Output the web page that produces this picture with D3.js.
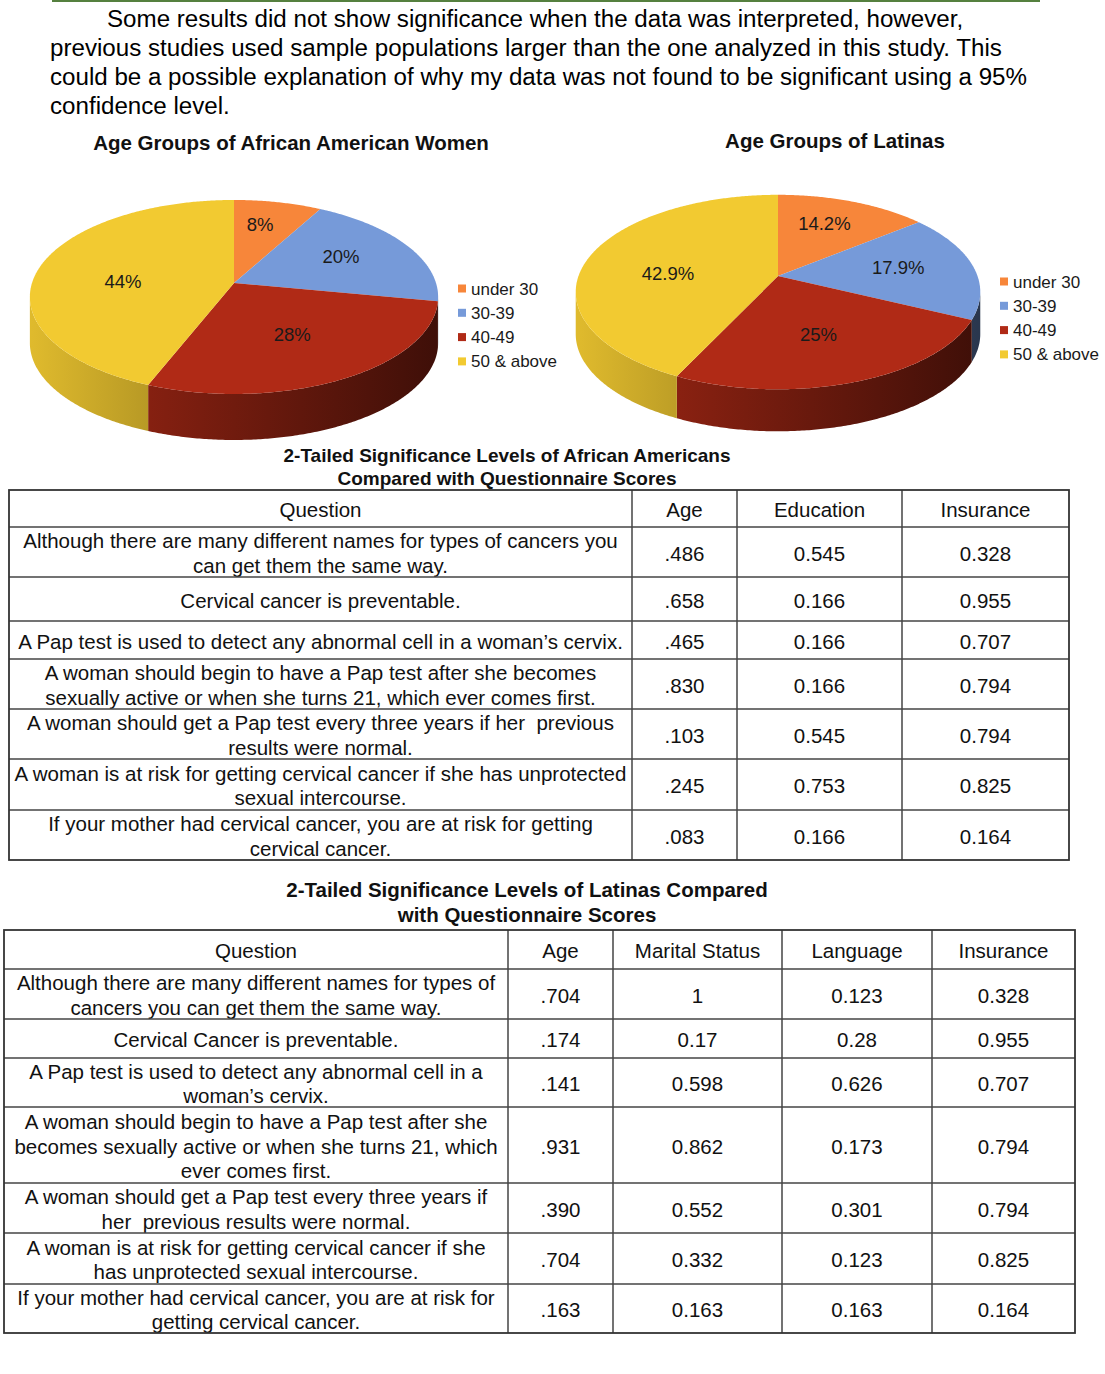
<!DOCTYPE html>
<html>
<head>
<meta charset="utf-8">
<script src="https://cdn.jsdelivr.net/npm/d3@7"></script>
<style>
  html, body { margin: 0; padding: 0; background: #fff; }
  svg { display: block; font-family: "Liberation Sans", Arial, sans-serif; }
</style>
</head>
<body>
<svg id="chart" width="1105" height="1374"></svg>
<script>
// ---------------- DATA ----------------
const introLines = [
  "Some results did not show significance when the data was interpreted, however,",
  "previous studies used sample populations larger than the one analyzed in this study. This",
  "could be a possible explanation of why my data was not found to be significant using a 95%",
  "confidence level."
];
const ageGroups = ["under 30", "30-39", "40-49", "50 & above"];
const africanAmericanPct = [8, 20, 28, 44];
const latinaPct = [14.2, 17.9, 25, 42.9];
const pieTitles = ["Age Groups of African American Women", "Age Groups of Latinas"];

const aaTitle = ["2-Tailed Significance Levels of African Americans", "Compared with Questionnaire Scores"];
const aaColumns = ["Question", "Age", "Education", "Insurance"];
const aaQuestions = [
  ["Although there are many different names for types of cancers you", "can get them the same way."],
  ["Cervical cancer is preventable."],
  ["A Pap test is used to detect any abnormal cell in a woman\u2019s cervix."],
  ["A woman should begin to have a Pap test after she becomes", "sexually active or when she turns 21, which ever comes first."],
  ["A woman should get a Pap test every three years if her \u00a0previous", "results were normal."],
  ["A woman is at risk for getting cervical cancer if she has unprotected", "sexual intercourse."],
  ["If your mother had cervical cancer, you are at risk for getting", "cervical cancer."]
];
const aaAge = [0.486, 0.658, 0.465, 0.830, 0.103, 0.245, 0.083];
const aaEducation = [0.545, 0.166, 0.166, 0.166, 0.545, 0.753, 0.166];
const aaInsurance = [0.328, 0.955, 0.707, 0.794, 0.794, 0.825, 0.164];

const laTitle = ["2-Tailed Significance Levels of Latinas Compared", "with Questionnaire Scores"];
const laColumns = ["Question", "Age", "Marital Status", "Language", "Insurance"];
const laQuestions = [
  ["Although there are many different names for types of", "cancers you can get them the same way."],
  ["Cervical Cancer is preventable."],
  ["A Pap test is used to detect any abnormal cell in a", "woman\u2019s cervix."],
  ["A woman should begin to have a Pap test after she", "becomes sexually active or when she turns 21, which", "ever comes first."],
  ["A woman should get a Pap test every three years if", "her \u00a0previous results were normal."],
  ["A woman is at risk for getting cervical cancer if she", "has unprotected sexual intercourse."],
  ["If your mother had cervical cancer, you are at risk for", "getting cervical cancer."]
];
const laAge = [0.704, 0.174, 0.141, 0.931, 0.390, 0.704, 0.163];
const laMarital = [1, 0.17, 0.598, 0.862, 0.552, 0.332, 0.163];
const laLanguage = [0.123, 0.28, 0.626, 0.173, 0.301, 0.123, 0.163];
const laInsurance = [0.328, 0.955, 0.707, 0.794, 0.794, 0.825, 0.164];

// ---------------- STYLE / LAYOUT ----------------
const sliceColors = ["#f7863a", "#769ad9", "#b02a16", "#f2ca31"];

const pieLayouts = [
  { cx: 234, cy: 283, R: 202, S: 95, p: 0.144, depth: 46,
    titleX: 291, titleY: 150, legX: 458, legY: 289 },
  { cx: 778, cy: 276, R: 199.5, S: 94.6, p: 0.165, depth: 42,
    titleX: 835, titleY: 148, legX: 1000, legY: 282 }
];
const legendStep = 24.3;

const table1Layout = { cols: [9, 632, 737, 902, 1069],
  rows: [490, 527, 577, 621, 659, 709, 759, 810, 860],
  titleX: 507, titleY: [462, 485], titleSize: 19 };
const table2Layout = { cols: [4, 508, 613, 782, 932, 1075],
  rows: [930, 969, 1019, 1058, 1107, 1183, 1233, 1284, 1333],
  titleX: 527, titleY: [897, 922], titleSize: 20.5 };

// ---------------- DRAW ----------------
const svg = d3.select("#chart");
svg.append("rect").attr("width", 1105).attr("height", 1374).attr("fill", "#fff");
const defs = svg.append("defs");

// top rule
svg.append("line").attr("x1", 52).attr("x2", 1040).attr("y1", 1).attr("y2", 1)
  .attr("stroke", "#55803f").attr("stroke-width", 2);

// intro paragraph
svg.append("g").selectAll("text").data(introLines).join("text")
  .attr("x", (d, i) => i === 0 ? 107 : 50)
  .attr("y", (d, i) => 27 + i * 29)
  .attr("font-size", 24.15).attr("fill", "#000")
  .text(d => d);

function shade(c, f) {
  const r = d3.rgb(c);
  return d3.rgb(r.r * f, r.g * f, r.b * f).formatHex();
}

function drawPie(idx, values) {
  const L = pieLayouts[idx];
  const g = svg.append("g");
  const arcs = d3.pie().sort(null).value(d => d)(values);
  const proj = (a, r) => {
    const u = r * Math.sin(a), v = -r * Math.cos(a);
    const w = 1 - L.p * v;
    return [L.cx + L.R * u / w, L.cy + L.S * v / w];
  };
  const sample = (a0, a1) => {
    const n = Math.max(2, Math.ceil((a1 - a0) / 0.01));
    return d3.range(n + 1).map(k => proj(a0 + (a1 - a0) * k / n, 1));
  };
  const f0 = Math.acos(-L.p), f1 = 2 * Math.PI - f0;
  const line = d3.line();

  // side walls
  arcs.forEach((d, i) => {
    const s = Math.max(d.startAngle, f0), e = Math.min(d.endAngle, f1);
    if (e <= s) return;
    const gid = `side${idx}_${i}`;
    const grad = defs.append("linearGradient").attr("id", gid)
      .attr("gradientUnits", "userSpaceOnUse")
      .attr("x1", L.cx - L.R).attr("x2", L.cx + L.R).attr("y1", 0).attr("y2", 0);
    grad.append("stop").attr("offset", 0).attr("stop-color", shade(sliceColors[i], 0.92));
    grad.append("stop").attr("offset", 1).attr("stop-color", shade(sliceColors[i], 0.36));
    const top = sample(s, e);
    const bottom = top.slice().reverse().map(([x, y]) => [x, y + L.depth]);
    g.append("path").attr("d", line(top.concat(bottom)) + "Z")
      .attr("fill", `url(#${gid})`);
  });

  // top faces + labels
  const apex = proj(0, 0);
  arcs.forEach((d, i) => {
    const pts = [apex].concat(sample(d.startAngle, d.endAngle));
    g.append("path").attr("d", line(pts) + "Z").attr("fill", sliceColors[i]);
  });
  arcs.forEach((d, i) => {
    const pts = [apex].concat(sample(d.startAngle, d.endAngle));
    const c = d3.polygonCentroid(pts);
    // nudge the label a little toward the rim centre of the slice's mid-angle
    const m = proj((d.startAngle + d.endAngle) / 2, 0.62);
    const lx = c[0] * 0.55 + m[0] * 0.45 - 3;
    const ly = c[1] - 5;
    g.append("text").attr("x", lx).attr("y", ly)
      .attr("text-anchor", "middle").attr("dominant-baseline", "central")
      .attr("font-size", 18.5).attr("fill", "#1a1a1a")
      .text(d3.format("")(d.data) + "%");
  });

  // title
  svg.append("text").attr("x", L.titleX).attr("y", L.titleY)
    .attr("text-anchor", "middle").attr("font-size", 20.5).attr("font-weight", "bold")
    .attr("fill", "#111").text(pieTitles[idx]);

  // legend
  const lg = svg.append("g");
  ageGroups.forEach((name, i) => {
    const y = L.legY + i * legendStep;
    lg.append("rect").attr("x", L.legX).attr("y", y - 4.5).attr("width", 8).attr("height", 8)
      .attr("fill", sliceColors[i]);
    lg.append("text").attr("x", L.legX + 13).attr("y", y)
      .attr("dominant-baseline", "central").attr("font-size", 17).attr("fill", "#1a1a1a")
      .text(name);
  });
}

drawPie(0, africanAmericanPct);
drawPie(1, latinaPct);

const fmtAge = v => d3.format(".3f")(v).replace(/^0/, "");
const fmtVal = v => String(v);

function drawTable(L, title, columns, questions, series, formats) {
  const g = svg.append("g");
  title.forEach((t, i) => {
    g.append("text").attr("x", L.titleX).attr("y", L.titleY[i])
      .attr("text-anchor", "middle").attr("font-size", L.titleSize)
      .attr("font-weight", "bold").attr("fill", "#111").text(t);
  });
  const x0 = L.cols[0], x1 = L.cols[L.cols.length - 1];
  const y0 = L.rows[0], y1 = L.rows[L.rows.length - 1];
  const colMid = i => (L.cols[i] + L.cols[i + 1]) / 2;
  const rowMid = r => (L.rows[r] + L.rows[r + 1]) / 2;

  // header
  columns.forEach((c, i) => {
    g.append("text").attr("x", colMid(i)).attr("y", rowMid(0) + 1)
      .attr("text-anchor", "middle").attr("dominant-baseline", "central")
      .attr("font-size", 20.5).attr("fill", "#111").text(c);
  });
  // body
  questions.forEach((lines, r) => {
    const cy = rowMid(r + 1) + 1;
    lines.forEach((ln, k) => {
      g.append("text").attr("x", colMid(0))
        .attr("y", cy + (k - (lines.length - 1) / 2) * 24.7)
        .attr("text-anchor", "middle").attr("dominant-baseline", "central")
        .attr("font-size", 20.5).attr("fill", "#111").text(ln);
    });
    series.forEach((s, j) => {
      g.append("text").attr("x", colMid(j + 1)).attr("y", cy)
        .attr("text-anchor", "middle").attr("dominant-baseline", "central")
        .attr("font-size", 20.5).attr("fill", "#111").text(formats[j](s[r]));
    });
  });
  // grid
  L.rows.slice(1, -1).forEach(y => {
    g.append("line").attr("x1", x0).attr("x2", x1).attr("y1", y).attr("y2", y)
      .attr("stroke", "#444").attr("stroke-width", 1.5);
  });
  L.cols.slice(1, -1).forEach(x => {
    g.append("line").attr("x1", x).attr("x2", x).attr("y1", y0).attr("y2", y1)
      .attr("stroke", "#444").attr("stroke-width", 1.5);
  });
  g.append("rect").attr("x", x0).attr("y", y0).attr("width", x1 - x0).attr("height", y1 - y0)
    .attr("fill", "none").attr("stroke", "#333").attr("stroke-width", 1.8);
}

drawTable(table1Layout, aaTitle, aaColumns, aaQuestions,
  [aaAge, aaEducation, aaInsurance], [fmtAge, fmtVal, fmtVal]);
drawTable(table2Layout, laTitle, laColumns, laQuestions,
  [laAge, laMarital, laLanguage, laInsurance], [fmtAge, fmtVal, fmtVal, fmtVal]);
</script>
</body>
</html>
